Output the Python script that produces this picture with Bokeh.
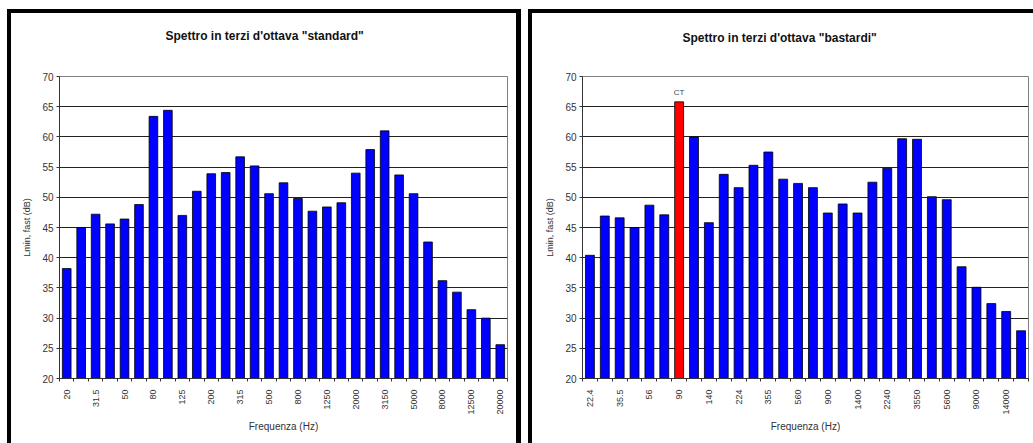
from math import pi
from bokeh.plotting import figure
from bokeh.layouts import row
from bokeh.models import FixedTicker, ColumnDataSource, Title
from bokeh.core.properties import value
from bokeh.embed import file_html
from bokeh.resources import INLINE

# ---- data ----
std_freq = ["20", "25", "31.5", "40", "50", "63", "80", "100", "125", "160", "200",
            "250", "315", "400", "500", "630", "800", "1000", "1250", "1600", "2000",
            "2500", "3150", "4000", "5000", "6300", "8000", "10000", "12500", "16000", "20000"]
std_level = [38.2, 45.0, 47.2, 45.6, 46.4, 48.8, 63.4, 64.4, 47.0, 51.0, 53.9,
             54.1, 56.7, 55.2, 50.6, 52.4, 49.8, 47.7, 48.4, 49.1, 54.0,
             57.9, 61.0, 53.7, 50.6, 42.6, 36.2, 34.3, 31.4, 30.0, 25.6]

bas_freq = ["22.4", "28", "35.5", "45", "56", "71", "90", "112", "140", "180",
            "224", "280", "355", "450", "560", "710", "900", "1120", "1400", "1800",
            "2240", "2800", "3550", "4500", "5600", "7100", "9000", "11200", "14000", "18000"]
bas_level = [40.4, 46.9, 46.6, 45.0, 48.7, 47.1, 65.8, 60.0, 45.8, 53.8,
             51.6, 55.3, 57.5, 53.0, 52.3, 51.6, 47.4, 48.9, 47.4, 52.5,
             54.8, 59.7, 59.6, 50.1, 49.6, 38.5, 35.1, 32.4, 31.1, 27.9]

tonal_freq = "90"
tonal_label = "CT"

titles = ['Spettro in terzi d\'ottava "standard"', 'Spettro in terzi d\'ottava "bastardi"']
x_title = "Frequenza (Hz)"
y_title = "Lmin, fast (dB)"
y_ticks = [20, 25, 30, 35, 40, 45, 50, 55, 60, 65, 70]

FONT = "Liberation Sans"
BLUE = "#0000FF"
RED = "#FF0000"


def panel(title, freqs, levels, width, height, mb, title_offset, gap,
          margin, highlight=None):
    n = len(freqs)
    idx = list(range(n))
    colors = [RED if f == highlight else BLUE for f in freqs]
    p = figure(width=width, height=height, x_range=(-0.5, n - 0.5), y_range=(20, 70),
               output_backend="svg", toolbar_location=None, margin=margin,
               min_border_left=mb[0], min_border_top=mb[1],
               min_border_right=mb[2], min_border_bottom=mb[3])
    p.title = None
    # invisible spacer between title and plot frame
    p.add_layout(Title(text=" ", text_font_size="1px", standoff=gap), "above")
    p.add_layout(Title(text=title, align="left", offset=title_offset, standoff=10,
                       text_font=FONT, text_font_size="12px", text_font_style="bold",
                       text_color="#111111"), "above")

    src = ColumnDataSource(dict(x=idx, top=levels, color=colors, f=freqs))
    p.vbar(x="x", top="top", bottom=0, width=0.6, fill_color="color",
           line_color="#000000", line_width=0.8, source=src)

    if highlight is not None:
        i = freqs.index(highlight)
        p.text(x=[i], y=[levels[i]], text=[tonal_label], y_offset=-5,
               text_align="center", text_baseline="bottom",
               text_font=value(FONT), text_font_size="8px", text_color="#444444")

    # x axis
    xa = p.xaxis[0]
    xa.ticker = FixedTicker(ticks=idx[::2], minor_ticks=[i - 0.5 for i in range(n + 1)])
    xa.major_label_overrides = {i: freqs[i] for i in idx[::2]}
    xa.major_label_orientation = pi / 2
    xa.major_tick_out = 0
    xa.major_tick_in = 0
    xa.minor_tick_out = 3
    xa.minor_tick_in = 0
    xa.minor_tick_line_color = "#333333"
    xa.major_label_standoff = 8
    xa.major_label_text_font = FONT
    xa.major_label_text_font_size = "9px"
    xa.major_label_text_color = "#333333"
    xa.axis_line_color = "#333333"
    xa.axis_label = x_title
    xa.axis_label_text_font = FONT
    xa.axis_label_text_font_size = "10px"
    xa.axis_label_text_font_style = "normal"
    xa.axis_label_text_color = "#333333"
    xa.axis_label_standoff = 3

    # y axis
    ya = p.yaxis[0]
    ya.ticker = FixedTicker(ticks=y_ticks)
    ya.major_tick_out = 3
    ya.major_tick_in = 0
    ya.minor_tick_line_color = None
    ya.major_tick_line_color = "#333333"
    ya.axis_line_color = "#333333"
    ya.major_label_standoff = 3
    ya.major_label_text_font = FONT
    ya.major_label_text_font_size = "10px"
    ya.major_label_text_color = "#333333"
    ya.axis_label = y_title
    ya.axis_label_text_font = FONT
    ya.axis_label_text_font_size = "9px"
    ya.axis_label_text_font_style = "normal"
    ya.axis_label_text_color = "#333333"
    ya.axis_label_standoff = 7

    p.xgrid.visible = False
    p.ygrid.ticker = FixedTicker(ticks=y_ticks)
    p.ygrid.grid_line_color = "#222222"
    p.ygrid.grid_line_width = 1
    p.outline_line_color = "#808080"
    p.background_fill_color = "white"
    p.border_fill_color = "white"
    return p


p1 = panel(titles[0], std_freq, std_level, 514, 434, (48, 63, 18, 69), 106, 26,
           (9, 0, 0, 7))
p2 = panel(titles[1], bas_freq, bas_level, 505, 434, (50, 61, 9, 69), 100, 24,
           (9, 0, 0, 0), highlight=tonal_freq)

p1.styles = {"border-top": "4px solid black", "border-left": "4px solid black",
             "border-right": "5px solid black"}
p2.styles = {"border-top": "4px solid black", "border-left": "4px solid black"}

layout = row(p1, p2, spacing=7)
open("out.html", "w").write(file_html(layout, INLINE))
